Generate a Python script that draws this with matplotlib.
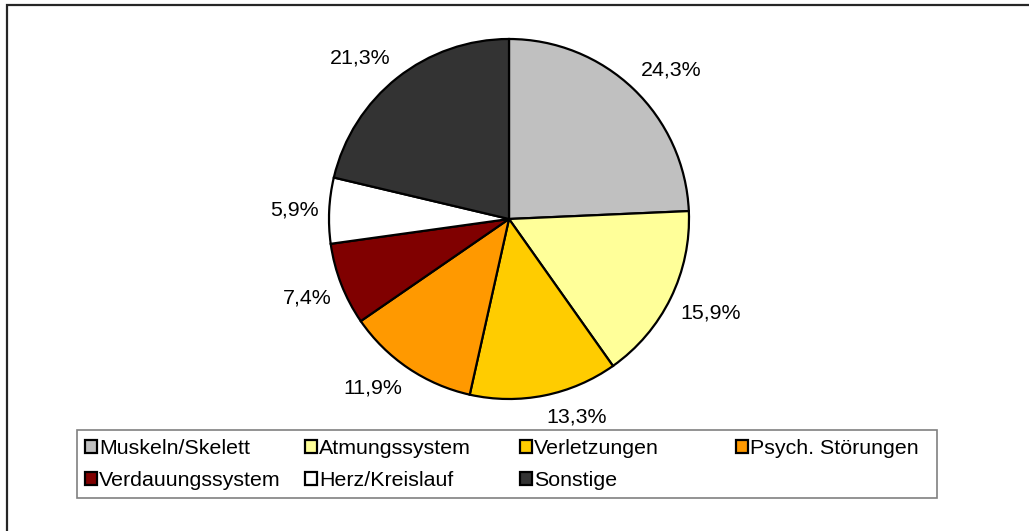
import numpy as np
import matplotlib
matplotlib.use("Agg")
import matplotlib.pyplot as plt
from matplotlib.patches import Rectangle

plt.rcParams['font.family'] = ['Liberation Sans', 'DejaVu Sans']

# Daten
kategorien = ['Muskeln/Skelett', 'Atmungssystem', 'Verletzungen', 'Psych. Störungen',
              'Verdauungssystem', 'Herz/Kreislauf', 'Sonstige']
anteile = [24.3, 15.9, 13.3, 11.9, 7.4, 5.9, 21.3]
farben = ['#C0C0C0', '#FFFF99', '#FFCC00', '#FF9900', '#800000', '#FFFFFF', '#333333']

W, H = 1029, 531
fx = lambda x: x / W
fy = lambda y: 1 - y / H

fig = plt.figure(figsize=(W / 100, H / 100), dpi=100)

# aeusserer Rahmen (rechts/unten abgeschnitten)
fig.add_artist(Rectangle((fx(7), fy(545)), (1045 - 7) / W, 540 / H, transform=fig.transFigure,
                         fill=False, ec='#262626', lw=1.6))

# Kreisdiagramm
cx, cy, r = 509, 219, 180
ax = fig.add_axes([fx(cx - r), fy(cy + r), 2 * r / W, 2 * r / H])
wedges, _ = ax.pie(anteile, colors=farben, startangle=90, counterclock=False, radius=1,
                   wedgeprops=dict(edgecolor='black', linewidth=1.6))
for w in wedges:
    w.set_clip_on(False)
ax.set_xlim(-1, 1)
ax.set_ylim(-1, 1)
ax.set_aspect('equal')
ax.axis('off')

# Prozentbeschriftung ausserhalb
for w, v in zip(wedges, anteile):
    mid = np.deg2rad((w.theta1 + w.theta2) / 2)
    c, s = np.cos(mid), np.sin(mid)
    ha = 'left' if c > 0 else 'right'
    if abs(s) < 0.2:
        va = 'center'
    elif s > 0:
        va = 'bottom'
    else:
        va = 'top'
    ax.text(1.06 * c, 1.07 * s, f"{v:.1f}".replace('.', ',') + '%', ha=ha, va=va,
            fontsize=15.4, clip_on=False)

# Legende
fig.add_artist(Rectangle((fx(77), fy(498)), (937 - 77) / W, (498 - 430) / H,
                         transform=fig.transFigure, fill=False, ec='#808080', lw=1.2))
spalten_x = [85, 305, 520, 736]
for i, x in enumerate(spalten_x):
    idx = [j for j in range(len(kategorien)) if j % 4 == i]
    leg = fig.legend([wedges[j] for j in idx], [kategorien[j] for j in idx],
                     loc='upper left', bbox_to_anchor=(fx(x), fy(439)),
                     frameon=False, fontsize=15.4, borderpad=0, borderaxespad=0,
                     handlelength=0.55, handleheight=0.55, handletextpad=0.12,
                     labelspacing=0.6)

fig.savefig('out.png', dpi=100)
